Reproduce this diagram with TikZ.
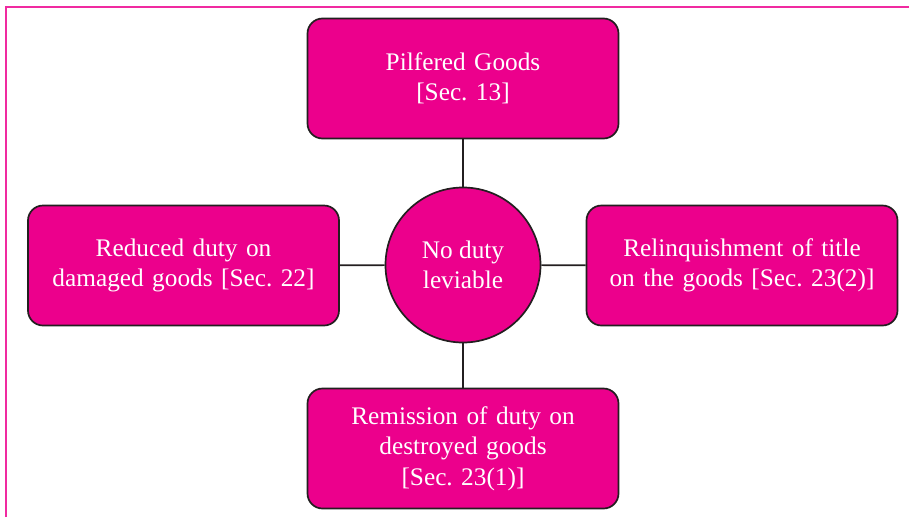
\documentclass[tikz,border=0pt]{standalone}
\usepackage{fontspec}
\setmainfont{Liberation Serif}
\usetikzlibrary{positioning}
\usepackage{xcolor}
\definecolor{magentabox}{HTML}{EC008C}
\definecolor{darkline}{HTML}{231F20}
\definecolor{framepink}{HTML}{F02AA0}
\frenchspacing

\begin{document}
\begin{tikzpicture}[
  x=1pt, y=-1pt,
  font=\fontsize{25.3}{30.5}\selectfont,
  sectionbox/.style={draw=darkline, line width=1.7pt, fill=magentabox, rounded corners=15pt, minimum width=311pt, minimum height=120pt, text width=305pt, align=center, text=white, inner sep=0pt},
  centrecircle/.style={circle, draw=darkline, line width=1.7pt, fill=magentabox, minimum size=155pt, align=center, text=white, inner sep=0pt},
  link/.style={draw=darkline, line width=1.7pt}
]
\useasboundingbox (0,0) rectangle (909,517);

% open frame
\draw[framepink, line width=1.2pt] (6,517) -- (6,7) -- (909,7);

\node[centrecircle] (nCore) at (463,265) {No duty\\leviable};
\node[sectionbox] (nTop) at (463,78.5) {Pilfered Goods\\{[}Sec. 13{]}};
\node[sectionbox] (nLeft) at (183.5,265.5) {Reduced duty on\\damaged goods {[}Sec. 22{]}};
\node[sectionbox] (nRight) at (742,265.5) {Relinquishment of title\\on the goods {[}Sec. 23(2){]}};
\node[sectionbox] (nBottom) at (463,448.5) {Remission of duty on\\destroyed goods\\{[}Sec. 23(1){]}};

\draw[link] (nTop) -- (nCore);
\draw[link] (nCore) -- (nLeft);
\draw[link] (nCore) -- (nRight);
\draw[link] (nCore) -- (nBottom);

\end{tikzpicture}
\end{document}
